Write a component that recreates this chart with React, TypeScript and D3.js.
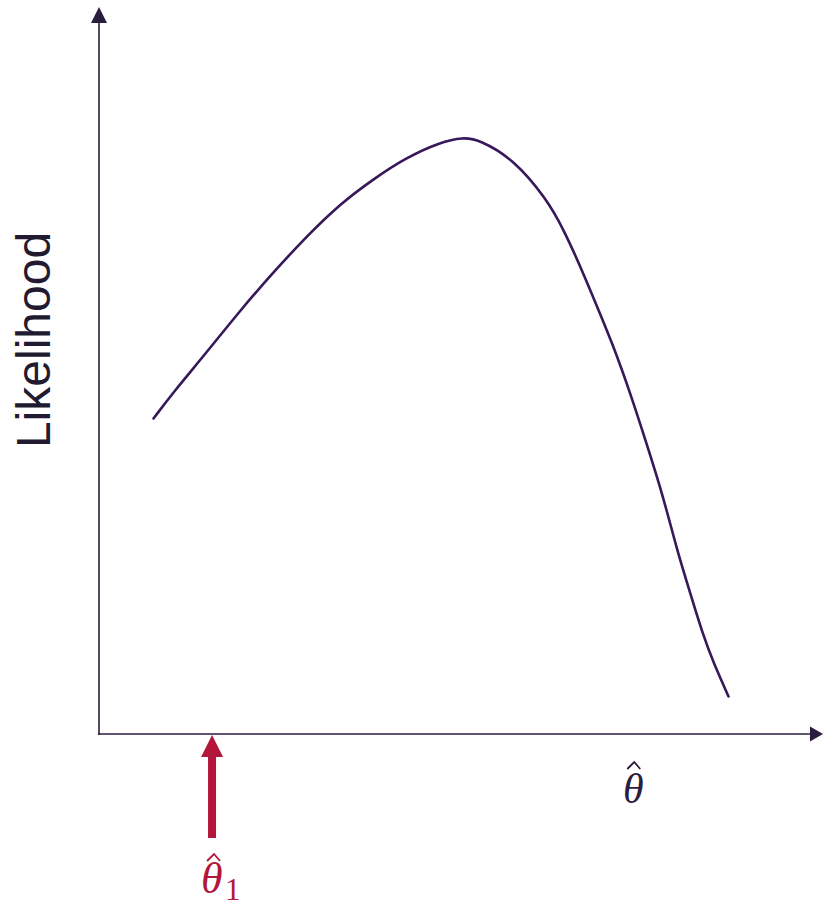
import React from "react";
import * as d3 from "d3";

// Likelihood curve sampled along θ (abstract units on both axes)
const thetaValues = [
  0.757, 1.032, 1.496, 1.958, 2.421, 2.885, 3.347, 3.81, 4.274, 4.736, 5.056, 5.292,
  5.754, 6.218, 6.449, 6.681, 6.913, 7.143, 7.375, 7.607, 7.838, 8.024, 8.208, 8.393,
  8.532, 8.743,
];
const likelihoodValues = [
  4.382, 4.746, 5.301, 5.879, 6.413, 6.913, 7.361, 7.708, 8.01, 8.218, 8.29, 8.25,
  7.986, 7.431, 7.014, 6.504, 5.949, 5.393, 4.746, 4.028, 3.292, 2.569, 1.968, 1.365,
  0.996, 0.521,
];
// Estimate marked under the axis
const thetaHat1 = 1.57;
const axisLabelTheta = 7.42;

const W = 823;
const H = 910;
const INK = "#2b1d40";
const CURVE = "#37185a";
const RED = "#b3163b";

export default function App() {
  const x = d3.scaleLinear().domain([0, 10]).range([99, 819]);
  const y = d3.scaleLinear().domain([0, 10]).range([734, 14]);

  const pts: [number, number][] = thetaValues.map((t, i) => [t, likelihoodValues[i]]);
  const line = d3
    .line<[number, number]>()
    .x((d) => x(d[0]))
    .y((d) => y(d[1]))
    .curve(d3.curveBasis);

  const ox = x(0);
  const oy = y(0);
  const mx = x(thetaHat1);
  const lx = x(axisLabelTheta);

  return (
    <svg
      width={W}
      height={H}
      viewBox={`0 0 ${W} ${H}`}
      style={{ position: "absolute", left: 0, top: 0, background: "#fff" }}
    >
      {/* axes */}
      <line x1={ox} y1={oy + 1} x2={ox} y2={20} stroke={INK} strokeWidth={1.6} />
      <path d={`M${ox},7 L${ox - 8},23 L${ox + 8},23 Z`} fill={INK} />
      <line x1={ox - 1} y1={oy} x2={812} y2={oy} stroke={INK} strokeWidth={1.6} />
      <path d={`M823,${oy} L810,${oy - 7.5} L810,${oy + 7.5} Z`} fill={INK} />

      {/* likelihood curve */}
      <path d={line(pts) ?? ""} fill="none" stroke={CURVE} strokeWidth={2.6} strokeLinecap="round" />

      {/* y label */}
      <text
        transform={`translate(50,340) rotate(-90)`}
        textAnchor="middle"
        fontFamily="'Liberation Sans', Arial, sans-serif"
        fontSize={48}
        fill="#221a30"
      >
        Likelihood
      </text>

      {/* x label θ̂ */}
      <text
        x={lx}
        y={803}
        textAnchor="middle"
        fontFamily="'Liberation Serif', 'DejaVu Serif', serif"
        fontStyle="italic"
        fontSize={42}
        fill={INK}
      >
        θ
      </text>
      <path
        d={`M${lx - 6},769 L${lx + 1},762 L${lx + 7},769`}
        fill="none"
        stroke={INK}
        strokeWidth={1.8}
      />

      {/* marker arrow for θ̂₁ */}
      <rect x={mx - 4} y={755} width={8} height={83} fill={RED} />
      <path d={`M${mx},735 L${mx - 11},757 L${mx + 11},757 Z`} fill={RED} />
      <text
        x={mx - 11}
        y={893}
        fontFamily="'Liberation Serif', 'DejaVu Serif', serif"
        fontStyle="italic"
        fontSize={44}
        fill={RED}
      >
        θ
      </text>
      <path
        d={`M${mx - 5},861 L${mx + 2},854 L${mx + 8},861`}
        fill="none"
        stroke={RED}
        strokeWidth={1.8}
      />
      <text
        x={mx + 13}
        y={900}
        fontFamily="'Liberation Serif', 'DejaVu Serif', serif"
        fontSize={31}
        fill={RED}
      >
        1
      </text>
    </svg>
  );
}
